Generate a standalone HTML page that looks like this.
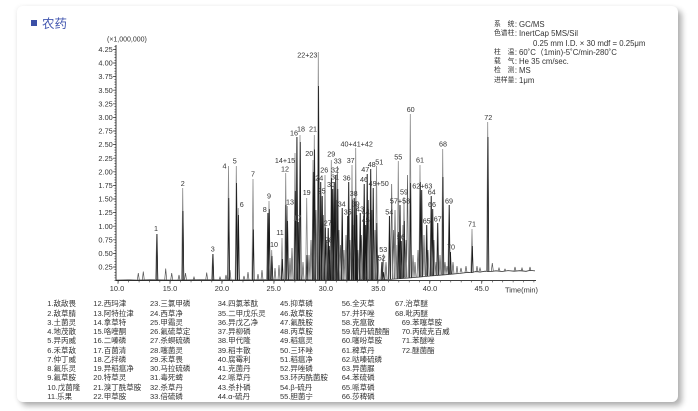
<!DOCTYPE html>
<html><head><meta charset="utf-8">
<style>
html,body{margin:0;padding:0;background:#fff;}
body{width:698px;height:411px;position:relative;overflow:hidden;font-family:"Liberation Sans","Noto Sans CJK SC",sans-serif;color:#333;}
.card{position:absolute;left:17px;top:6px;width:661px;height:396px;background:#fff;border-radius:6px;box-shadow:4px 4px 6px rgba(0,0,0,0.30),-1px 0 4px rgba(0,0,0,0.06);}
.title{position:absolute;left:31px;top:15px;font-size:12.5px;color:#4458b0;line-height:18px;}
.title i{display:inline-block;width:6px;height:6px;background:#3b4fa6;margin-right:5px;vertical-align:2px;}
.info{position:absolute;left:494px;top:20px;font-size:7.8px;line-height:9.3px;color:#333;white-space:nowrap;}
.info div{height:9.3px;}
.info .k{display:inline-block;width:19px;font-size:6.8px;text-align:justify;text-align-last:justify;vertical-align:top;}
.info .c{display:inline-block;width:6px;text-align:center;}
.leg{position:absolute;top:299.3px;font-size:7.5px;line-height:9.25px;color:#333;white-space:nowrap;}
svg{position:absolute;left:0;top:0;}
svg text{font-family:"Liberation Sans",sans-serif;fill:#333;}
</style></head><body>
<div class="card"></div>
<div class="title"><i></i>农药</div>
<div class="info">
<div><span class="k">系　统</span><span class="c">:</span>GC/MS</div>
<div><span class="k">色谱柱</span><span class="c">:</span>InertCap 5MS/Sil</div>
<div style="padding-left:39px">0.25 mm I.D. × 30 mdf = 0.25μm</div>
<div><span class="k">柱　温</span><span class="c">:</span>60˚C（1min)-5˚C/min-280˚C</div>
<div><span class="k">载　气</span><span class="c">:</span>He 35 cm/sec.</div>
<div><span class="k">检　测</span><span class="c">:</span>MS</div>
<div><span class="k">进样量</span><span class="c">:</span>1μm</div>
</div>

<svg width="698" height="411" viewBox="0 0 698 411">
<text x="107" y="41.5" font-size="7">(×1,000,000)</text>
<line x1="116" y1="45" x2="116" y2="281" stroke="#222" stroke-width="0.9"/>
<line x1="115.2" y1="280.9" x2="115.2" y2="46" stroke="#333" stroke-width="1.6" stroke-dasharray="0.6 2.12"/>
<path d="M113 267H116M113 253.4H116M113 239.8H116M113 226.2H116M113 212.6H116M113 199H116M113 185.4H116M113 171.8H116M113 158.2H116M113 144.6H116M113 131H116M113 117.4H116M113 103.8H116M113 90.2H116M113 76.6H116M113 63H116M113 49.4H116" stroke="#333" stroke-width="0.7"/>
<g font-size="7.4" text-anchor="end">
<text x="112.8" y="269.6">0.25</text><text x="112.8" y="256">0.50</text><text x="112.8" y="242.4">0.75</text><text x="112.8" y="228.8">1.00</text><text x="112.8" y="215.2">1.25</text><text x="112.8" y="201.6">1.50</text><text x="112.8" y="188">1.75</text><text x="112.8" y="174.4">2.00</text><text x="112.8" y="160.8">2.25</text><text x="112.8" y="147.2">2.50</text><text x="112.8" y="133.6">2.75</text><text x="112.8" y="120">3.00</text><text x="112.8" y="106.4">3.25</text><text x="112.8" y="92.8">3.50</text><text x="112.8" y="79.2">3.75</text><text x="112.8" y="65.6">4.00</text><text x="112.8" y="52">4.25</text>
</g>
<line x1="116" y1="280.6" x2="536" y2="280.6" stroke="#222" stroke-width="0.9"/>
<line x1="118" y1="281.6" x2="536" y2="281.6" stroke="#333" stroke-width="1.6" stroke-dasharray="0.6 9.79"/>
<path d="M118 280.6V283.8M170 280.6V283.8M221.9 280.6V283.8M273.9 280.6V283.8M325.8 280.6V283.8M377.8 280.6V283.8M429.7 280.6V283.8M481.7 280.6V283.8" stroke="#333" stroke-width="0.7"/>
<g font-size="7.4" text-anchor="middle">
<text x="117" y="291">10.0</text><text x="170" y="291">15.0</text><text x="221.9" y="291">20.0</text><text x="273.7" y="291">25.0</text><text x="325.8" y="291">30.0</text><text x="378.3" y="291">35.0</text><text x="430" y="291">40.0</text><text x="481.7" y="291">45.0</text><text x="521.5" y="292.5">Time(min)</text>
</g>
<path d="M116 280.1L130 279.9L137 280.2L150 279.8L175 280.1L200 279.8L240 280L280 279.7L330 279.9L380 279.8L390 279.4L400 278.6L410 277.9L420 277L430 276L440 275.2L450 274.3L460 273.4L468 272.3L472 272.6L476 271.4L480 272.1L485 271.2L490 271.6L496 270.8L502 271.5L508 270.6L514 271.2L520 270.7L526 271.3L530 270.4L535 270.9" fill="none" stroke="#333" stroke-width="0.8"/>
<path fill="none" stroke="#555" stroke-width="0.7" d="M137.3 280L138.3 273L139.3 280M142.3 280L143.3 271.5L144.3 280M164.7 280L165.7 268.5L166.7 280M170.7 280L171.7 273L172.7 280M178 280L179 275L180 280M184.5 280L185.5 273L186.5 280M193 280L194 277L195 280M205.7 280L206.7 272.5L207.7 280M219 280L220 277L221 280M225 280L226 275L227 280M229 280L230 270L231 280M243 280L244 276L245 280M247 280L248 272L249 280M257 280L258 274L259 280M261 280L262 270L263 280M274 280L275 268L276 280M278 280L279 265L280 280M289 280L290 258L291 280M291 280L292 248L293 280M302 280L303 262L304 280M308 280L309 255L310 280M310 280L311 240L312 280M315 280L316 210L317 280M318.5 280L319.5 230L320.5 280M322.5 280L323.5 215L324.5 280M325.5 280L326.5 240L327.5 280M329 280L330 250L331 280M332 280L333 220L334 280M335.5 280L336.5 200L337.5 280M338 280L339 230L340 280M339.5 280L340.5 245L341.5 280M343 280L344 250L345 280M345 280L346 235L347 280M349 280L350 240L351 280M352 280L353 225L354 280M357 280L358 250L359 280M360.5 280L361.5 235L362.5 280M367.5 280L368.5 200L369.5 280M371 280L372 210L373 280M374 280L375 230L376 280M377 280L378 255L379 280M385 279L386 262L387 279M390.7 279L391.7 184L392.7 279M392.5 279L393.5 230L394.5 279M394 279L395 210L396 279M396 279L397 245L398 279M402 277.5L403 225L404 277.5M405 277.5L406 240L407 277.5M406.5 277.5L407.5 175L408.5 277.5M412 277.5L413 255L414 277.5M414 277.5L415 262L416 277.5M417 277.5L418 250L419 277.5M423 275.5L424 235L425 275.5M427 275.5L428 250L429 275.5M433 275.5L434 240L435 275.5M435 275.5L436 262L437 275.5M439 275.5L440 255L441 275.5M444 274L445 262L446 274M446 274L447 266L448 274M452 274L453 262L454 274M456 274L457 266L458 274M460 272.5L461 268L462 272.5M465 272.5L466 266L467 272.5M476 272.5L477 266L478 272.5M479 271.5L480 268L481 271.5M491.3 271L492.3 263L493.3 271M498 271L499 268L500 271M504 271L505 269L506 271M514 271L515 267L516 271M521 271L522 268L523 271M529 271L530 267L531 271"/>
<path fill="none" stroke="#8a8a8a" stroke-width="0.8" d="M155.6 280L156.7 234L157.8 280M181.6 280L182.7 188L183.8 280M211.6 280L212.7 254L213.8 280M227.4 280L228.5 166L229.6 280M235.2 280L236.3 166L237.4 280M237.1 280L238.2 208L239.3 280M251.9 280L253 179L254.1 280M266.6 280L267.7 213L268.8 280M267.9 280L269 201L270.1 280M270.6 280L271.7 250L272.8 280M280.9 280L282 238L283.1 280M284.6 280L285.7 173L286.8 280M286.2 280L287.3 206L288.4 280M293.9 280L295 153L296.1 280M295.6 280L296.7 137L297.8 280M296.9 280L298 222L299.1 280M298.9 280L300 135L301.1 280M305.6 280L306.7 198L307.8 280M311.9 280L313 160L314.1 280M313.2 280L314.3 135L315.4 280M317.2 280L318.3 52L319.4 280M319.4 280L320.5 182L321.6 280M320.9 280L322 196L323.1 280M323.9 280L325 175L326.1 280M326.9 280L328 228L329.1 280M327.9 280L329 246L330.1 280M330.2 280L331.3 160L332.4 280M331.4 280L332.5 189L333.6 280M332.9 280L334 182L335.1 280M334.4 280L335.5 175L336.6 280M336.4 280L337.5 166L338.6 280M340.9 280L342 208L343.1 280M346.4 280L347.5 216L348.6 280M347.4 280L348.5 182L349.6 280M350.9 280L352 165L353.1 280M352.9 280L354 198L355.1 280M355.4 280L356.5 208L357.6 280M354.6 280L355.7 148L356.8 280M358.9 280L360 213L361.1 280M362.4 280L363.5 216L364.6 280M364.4 280L365.5 225L366.6 280M362.9 280L364 184L365.1 280M365.9 280L367 174L368.1 280M369.4 280L370.5 169L371.6 280M371.9 280L373 188L374.1 280M375.4 280L376.5 166L377.6 280M380.6 280L381.7 262L382.8 280M382.2 280L383.3 254L384.4 280M388.2 279.6L389.3 216L390.4 279.6M397.2 278.8L398.3 161L399.4 278.8M399.9 278.6L401 241L402.1 278.6M398.7 278.7L399.8 205L400.9 278.7M402.9 278.3L404 197L405.1 278.3M409.2 277.8L410.3 114L411.4 277.8M418.9 276.9L420 165L421.1 276.9M420.4 276.8L421.5 190L422.6 276.8M429.9 275.9L431 196L432.1 275.9M425.4 276.3L426.5 225L427.6 276.3M431.4 275.8L432.5 209L433.6 275.8M436.4 275.4L437.5 223L438.6 275.4M441.6 274.9L442.7 149L443.8 274.9M447.9 274.4L449 205L450.1 274.4M449.1 274.2L450.2 252L451.3 274.2M470.9 272.5L472 229L473.1 272.5M486.6 271.5L487.7 122L488.8 271.5"/>
<path fill="none" stroke="#1a1a1a" stroke-width="0.8" d="M156.2 280L157 234L157.8 280M182.2 280L183 211L183.8 280M212.2 280L213 254L213.8 280M228 280L228.8 198L229.6 280M235.8 280L236.6 183L237.4 280M237.7 280L238.5 215L239.3 280M252.5 280L253.3 229.5L254.1 280M267.2 280L268 213L268.8 280M268.5 280L269.3 209L270.1 280M271.2 280L272 256L272.8 280M281.5 280L282.3 259L283.1 280M285.2 280L286 205L286.8 280M286.8 280L287.6 221L288.4 280M294.5 280L295.3 191L296.1 280M296.2 280L297 137L297.8 280M297.5 280L298.3 222L299.1 280M299.5 280L300.3 142L301.1 280M306.2 280L307 255L307.8 280M312.5 280L313.3 172L314.1 280M313.8 280L314.6 149.5L315.4 280M317.8 280L318.6 86L319.4 280M320 280L320.8 182L321.6 280M321.5 280L322.3 196L323.1 280M324.5 280L325.3 227.5L326.1 280M327.5 280L328.3 228L329.1 280M328.5 280L329.3 246L330.1 280M330.8 280L331.6 178L332.4 280M332 280L332.8 189L333.6 280M333.5 280L334.3 182L335.1 280M335 280L335.8 175L336.6 280M337 280L337.8 189L338.6 280M341.5 280L342.3 208L343.1 280M347 280L347.8 216L348.6 280M348 280L348.8 182L349.6 280M351.5 280L352.3 199.5L353.1 280M353.5 280L354.3 198L355.1 280M356 280L356.8 215L357.6 280M355.2 280L356 201L356.8 280M359.5 280L360.3 213L361.1 280M363 280L363.8 216L364.6 280M365 280L365.8 225L366.6 280M363.5 280L364.3 184L365.1 280M366.5 280L367.3 174L368.1 280M370 280L370.8 169L371.6 280M372.5 280L373.3 188L374.1 280M376 280L376.8 223L377.6 280M381.2 280L382 262L382.8 280M382.8 280L383.6 272L384.4 280M388.8 279.6L389.6 216L390.4 279.6M397.8 278.8L398.6 232L399.4 278.8M400.5 278.6L401.3 241L402.1 278.6M399.3 278.7L400.1 205L400.9 278.7M403.5 278.3L404.3 221L405.1 278.3M409.8 277.8L410.6 183L411.4 277.8M419.5 276.9L420.3 182L421.1 276.9M421 276.8L421.8 190L422.6 276.8M430.5 275.9L431.3 196L432.1 275.9M426 276.3L426.8 225L427.6 276.3M432 275.8L432.8 209L433.6 275.8M437 275.4L437.8 223L438.6 275.4M442.2 274.9L443 177L443.8 274.9M448.5 274.4L449.3 205L450.1 274.4M449.7 274.2L450.5 252L451.3 274.2M471.5 272.5L472.3 246L473.1 272.5M487.2 271.5L488 137L488.8 271.5"/>
<g font-size="7.2" text-anchor="middle">
<text x="156" y="230.9">1</text><text x="182.7" y="185.9">2</text><text x="212.7" y="251.6">3</text><text x="224.5" y="168.3">4</text><text x="234.7" y="163.6">5</text><text x="241.7" y="206.9">6</text><text x="253" y="176.6">7</text><text x="264.7" y="211.9">8</text><text x="269" y="198.3">9</text><text x="274" y="246.9">10</text><text x="280" y="234.9">11</text><text x="285" y="171.3">12</text><text x="290" y="204.3">13</text><text x="285" y="162.9">14+15</text><text x="294" y="135.3">16</text><text x="297.3" y="220.3" style="fill:#777">17</text><text x="301" y="131.6">18</text><text x="306.7" y="194.9">19</text><text x="309.3" y="155.9">20</text><text x="313" y="131.6">21</text><text x="307.3" y="57.3">22+23</text><text x="319.3" y="180.3">24</text><text x="321.7" y="193.6">25</text><text x="324.3" y="172.6">26</text><text x="327.7" y="225.3">27</text><text x="328.7" y="242.6">28</text><text x="331.3" y="156.6">29</text><text x="331" y="186.9">30</text><text x="335" y="179.6">31</text><text x="335" y="172.6">32</text><text x="337.7" y="163.6">33</text><text x="341.7" y="206.3">34</text><text x="347.7" y="214.3">35</text><text x="346.7" y="180.3">36</text><text x="350.7" y="162.9">37</text><text x="353.7" y="195.9">38</text><text x="355.7" y="206.3">39</text><text x="356.7" y="146.3">40+41+42</text><text x="360" y="211.3">43</text><text x="365.7" y="214.3">44</text><text x="365.7" y="222.6">45</text><text x="364" y="181.9">46</text><text x="365.3" y="171.9">47</text><text x="371.7" y="166.9">48</text><text x="378.7" y="185.9">49+50</text><text x="379.3" y="164.3">51</text><text x="381.7" y="260.3">52</text><text x="383.3" y="251.9">53</text><text x="389.3" y="214.3">54</text><text x="398.3" y="159.3">55</text><text x="401" y="239.3">56</text><text x="400" y="203.6">57+58</text><text x="404" y="194.6">59</text><text x="410.7" y="111.9">60</text><text x="420" y="162.6">61</text><text x="422.3" y="188.6">62+63</text><text x="431.7" y="194.3">64</text><text x="426.7" y="223.3">65</text><text x="432" y="206.9">66</text><text x="437.7" y="221.6">67</text><text x="443" y="146.3">68</text><text x="449" y="203.6">69</text><text x="451" y="249.3">70</text><text x="472" y="226.3">71</text><text x="488.3" y="119.9">72</text>
</g>
</svg>

<div class="leg" style="left:47.3px">1.敌敌畏<br>2.敌草腈<br>3.土菌灵<br>4.地茂散<br>5.异丙威<br>6.禾草敌<br>7.仲丁威<br>8.氟乐灵<br>9.氟草胺<br>10.戊菌隆<br>11.乐果</div>
<div class="leg" style="left:93.3px">12.西玛津<br>13.阿特拉津<br>14.拿草特<br>15.咯喹酮<br>16.二嗪磷<br>17.百菌清<br>18.乙拌磷<br>19.异稻瘟净<br>20.特草灵<br>21.溴丁酰草胺<br>22.甲草胺</div>
<div class="leg" style="left:150px">23.三氯甲磷<br>24.西草净<br>25.甲霜灵<br>26.氟硫草定<br>27.杀螟硫磷<br>28.噻菌灵<br>29.禾草畏<br>30.马拉硫磷<br>31.毒死蜱<br>32.杀草丹<br>33.倍硫磷</div>
<div class="leg" style="left:217.7px">34.四氯苯酞<br>35.二甲戊乐灵<br>36.异戊乙净<br>37.异柳磷<br>38.甲代隆<br>39.稻丰散<br>40.腐霉利<br>41.克菌丹<br>42.哌草丹<br>43.杀扑磷<br>44.α-硫丹</div>
<div class="leg" style="left:280px">45.抑草磷<br>46.敌草胺<br>47.氟酰胺<br>48.丙草胺<br>49.稻瘟灵<br>50.三环唑<br>51.稻瘟净<br>52.异唑磷<br>53.环丙酰菌胺<br>54.β-硫丹<br>55.胆菌宁</div>
<div class="leg" style="left:341.7px">56.全灭草<br>57.并环唑<br>58.克瘟散<br>59.硫丹硫酸酯<br>60.噻吩草胺<br>61.稗草丹<br>62.哒嗪硫磷<br>63.异菌脲<br>64.苯硫磷<br>65.哌草磷<br>66.莎稗磷</div>
<div class="leg" style="left:395px">67.治草醚<br>68.吡丙醚</div>
<div class="leg" style="left:401.7px;top:317.8px">69.苯噻草胺<br>70.丙硫克百威<br>71.苯醚唑<br>72.醚菌酯</div>
</body></html>
